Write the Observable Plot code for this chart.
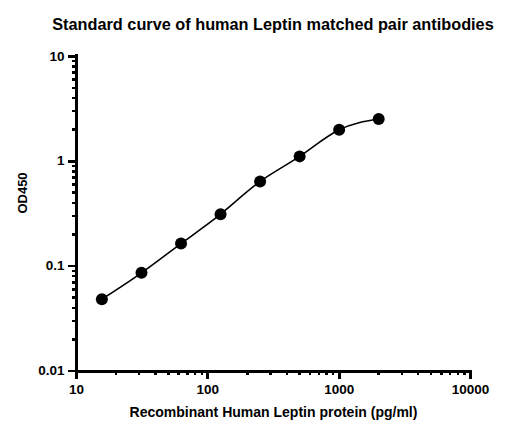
<!DOCTYPE html>
<html>
<head>
<meta charset="utf-8">
<script src="https://cdn.jsdelivr.net/npm/d3@7"></script>
<script src="https://cdn.jsdelivr.net/npm/@observablehq/plot@0.6"></script>
<style>
  body { margin: 0; background: #fff; }
  #title { width: 516px; height: 44px; box-sizing: border-box; padding-top: 16px; padding-left: 30px;
    font: bold 16.3px/16px "Liberation Sans", Arial, sans-serif; text-align: center; color: #000; white-space: nowrap; }
</style>
</head>
<body>
<div id="title">Standard curve of human Leptin matched pair antibodies</div>
<div id="chart"></div>
<script>
const concentration = [15.6, 31.25, 62.5, 125, 250, 500, 1000, 2000];
const od450 = [0.0484, 0.0863, 0.164, 0.312, 0.64, 1.11, 1.99, 2.52];
const xMajorTicks = [10, 100, 1000, 10000];
const yMajorTicks = [0.01, 0.1, 1, 10];
const xMinorTicks = [20,30,40,50,60,70,80,90,200,300,400,500,600,700,800,900,2000,3000,4000,5000,6000,7000,8000,9000];
const yMinorTicks = [0.02,0.03,0.04,0.05,0.06,0.07,0.08,0.09,0.2,0.3,0.4,0.5,0.6,0.7,0.8,0.9,2,3,4,5,6,7,8,9];
const xLabel = "Recombinant Human Leptin protein (pg/ml)";
const yLabel = "OD450";

const data = concentration.map((c, i) => ({c, od: od450[i]}));
const font = '"Liberation Sans", Arial, sans-serif';

const chart = Plot.plot({
  width: 516,
  height: 393,
  marginTop: 11.7,
  marginBottom: 66.5,
  marginLeft: 76,
  marginRight: 46,
  style: {fontFamily: font, color: "#000", background: "#fff"},
  x: {type: "log", domain: [10, 10000]},
  y: {type: "log", domain: [0.01, 10]},
  marks: [
    Plot.axisX(xMinorTicks, {tickSize: 4.5, strokeWidth: 2.5, stroke: "#000", shapeRendering: "crispEdges", tickFormat: () => "", label: null}),
    Plot.axisY(yMinorTicks, {tickSize: 4.5, strokeWidth: 2.5, stroke: "#000", shapeRendering: "crispEdges", tickFormat: () => "", label: null}),
    Plot.axisX(xMajorTicks, {tickSize: 8, strokeWidth: 2.8, stroke: "#000", shapeRendering: "crispEdges", tickPadding: 5, fontSize: 13.5, fontWeight: "bold", fill: "#000", tickFormat: d => String(d), label: null}),
    Plot.axisY(yMajorTicks, {tickSize: 8, strokeWidth: 2.8, stroke: "#000", shapeRendering: "crispEdges", tickPadding: 4, fontSize: 13.5, fontWeight: "bold", fill: "#000", tickFormat: d => String(d), label: null}),
    Plot.ruleX([10], {strokeWidth: 3, strokeLinecap: "square", stroke: "#000", shapeRendering: "crispEdges"}),
    Plot.ruleY([0.01], {strokeWidth: 3, strokeLinecap: "square", stroke: "#000", shapeRendering: "crispEdges"}),
    Plot.line(data, {x: "c", y: "od", curve: "natural", strokeWidth: 1.6, stroke: "#000"}),
    Plot.dot(data, {x: "c", y: "od", r: 6, fill: "#000", stroke: "none"}),
    Plot.text([xLabel], {text: d => d, frameAnchor: "bottom", dy: 46, fontSize: 14, fontWeight: "bold", fill: "#000"}),
    Plot.text([yLabel], {text: d => d, frameAnchor: "left", dx: -53.5, rotate: -90, fontSize: 13, fontWeight: "bold", fill: "#000"})
  ]
});
document.getElementById("chart").appendChild(chart);
</script>
</body>
</html>
